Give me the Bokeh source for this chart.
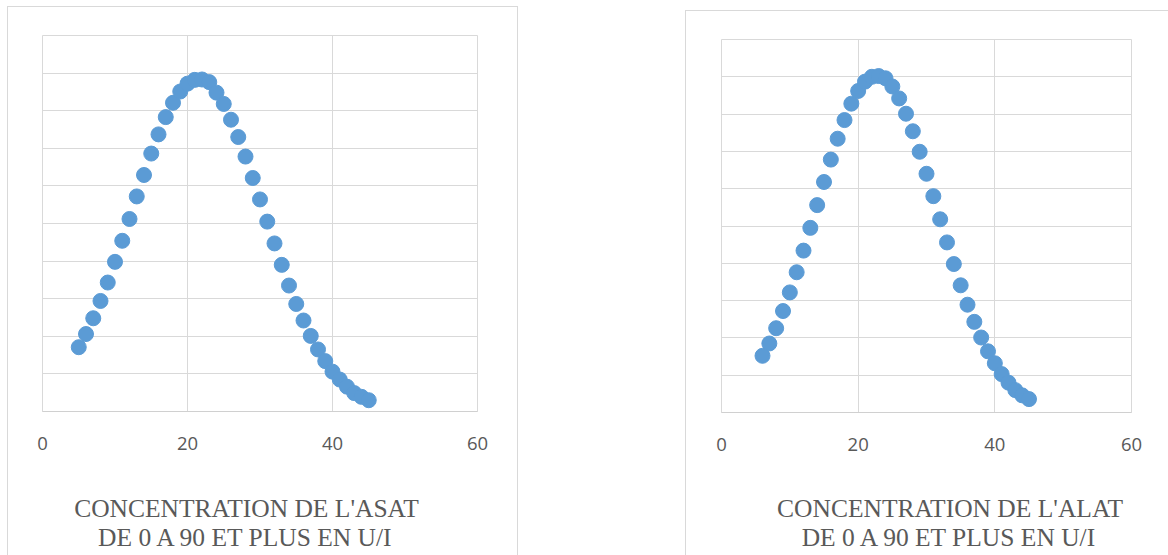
from bokeh.plotting import figure
from bokeh.models import FixedTicker, Spacer, Range1d, Grid
from bokeh.layouts import row, column
from bokeh.core.properties import value
from bokeh.embed import file_html
from bokeh.resources import INLINE

# ---- data ----
asat_x = list(range(5, 46))
asat_y = [1.71, 2.06, 2.48, 2.94, 3.43, 3.98, 4.54, 5.12, 5.72, 6.29,
          6.86, 7.37, 7.83, 8.21, 8.51, 8.72, 8.82, 8.83, 8.76, 8.48,
          8.18, 7.76, 7.30, 6.78, 6.21, 5.64, 5.05, 4.47, 3.90, 3.35,
          2.86, 2.42, 2.01, 1.65, 1.34, 1.06, 0.85, 0.66, 0.49, 0.39, 0.30]

alat_x = list(range(6, 46))
alat_y = [1.52, 1.85, 2.26, 2.72, 3.22, 3.76, 4.34, 4.95, 5.56, 6.18,
          6.78, 7.34, 7.84, 8.28, 8.62, 8.87, 9.00, 9.02, 8.96, 8.74,
          8.42, 8.01, 7.54, 6.99, 6.40, 5.80, 5.18, 4.56, 3.98, 3.41,
          2.89, 2.43, 2.01, 1.64, 1.32, 1.03, 0.80, 0.60, 0.46, 0.36]

x_ticks = [0, 20, 40, 60]
y_grid_ticks = list(range(0, 11))
title_asat = ["CONCENTRATION DE L'ASAT", "DE 0 A 90 ET PLUS EN U/I"]
title_alat = ["CONCENTRATION DE L'ALAT", "DE 0 A 90 ET PLUS EN U/I"]

GRID = "#d9d9d9"
TEXT = "#595959"
BLUE = "#5b9bd5"


def border(sides):
    st = {f"border-{s}": f"1px solid {GRID}" for s in sides}
    st["box-sizing"] = "border-box"
    return st


def make_chart(xs, ys, xr, width, height, mb, sides):
    p = figure(width=width, height=height, x_range=xr,
               y_range=Range1d(y_grid_ticks[0], y_grid_ticks[-1]),
               output_backend="svg", toolbar_location=None,
               y_axis_location=None,
               min_border_left=mb[0], min_border_right=mb[1],
               min_border_top=mb[2], min_border_bottom=mb[3],
               styles=border(sides))
    p.background_fill_color = "white"
    p.border_fill_color = "white"
    p.outline_line_color = GRID
    p.outline_line_width = 1

    p.xaxis.ticker = FixedTicker(ticks=x_ticks)
    p.xaxis.axis_line_color = "#d0d0d0"
    p.xaxis.major_tick_line_color = None
    p.xaxis.minor_tick_line_color = None
    p.xaxis.major_tick_out = 0
    p.xaxis.major_tick_in = 0
    p.xaxis.major_label_standoff = 25
    p.xaxis.major_label_text_font = "Open Sans"
    p.xaxis.major_label_text_font_size = "18.5px"
    p.xaxis.major_label_text_color = TEXT

    p.xgrid.ticker = FixedTicker(ticks=x_ticks)
    p.xgrid.grid_line_color = GRID
    if len(p.ygrid) > 0:
        for g in p.ygrid:
            g.ticker = FixedTicker(ticks=y_grid_ticks)
            g.grid_line_color = GRID
    else:
        p.add_layout(Grid(dimension=1, ticker=FixedTicker(ticks=y_grid_ticks),
                          grid_line_color=GRID))

    p.scatter(xs, ys, size=15, color=BLUE, line_color=BLUE)
    return p


def make_caption(lines, xr, width, height, mb, tx, ty, sides):
    c = figure(width=width, height=height, x_range=xr,
               y_range=Range1d(0, height),
               output_backend="svg", toolbar_location=None,
               x_axis_location=None, y_axis_location=None,
               min_border_left=mb[0], min_border_right=mb[1],
               min_border_top=0, min_border_bottom=0,
               styles=border(sides))
    c.grid.visible = False
    c.outline_line_color = None
    c.background_fill_color = "white"
    c.border_fill_color = "white"
    c.text(x=[tx] * len(lines), y=ty, text=lines,
           text_font=value("Liberation Serif"), text_font_size=value("25.5px"),
           text_align="center", text_baseline="alphabetic", text_color=TEXT)
    return c


xr1 = Range1d(x_ticks[0], x_ticks[-1])
xr2 = Range1d(x_ticks[0], x_ticks[-1])

p1 = make_chart(asat_x, asat_y, xr1, 511, 456, (34, 42, 28, 52), ["left", "top", "right"])
c1 = make_caption(title_asat, xr1, 511, 93, (34, 42), 28.13, [47, 18], ["left", "right"])
p2 = make_chart(alat_x, alat_y, xr2, 483, 453, (35, 38, 28, 52), ["left", "top"])
c2 = make_caption(title_alat, xr2, 483, 92, (35, 38), 33.45, [47, 18], ["left"])

left = column(p1, c1, margin=(6, 0, 0, 7))
right = column(p2, c2, margin=(10, 0, 0, 0))
layout = row(left, Spacer(width=167, height=10), right)

open("out.html", "w").write(file_html(layout, INLINE))
